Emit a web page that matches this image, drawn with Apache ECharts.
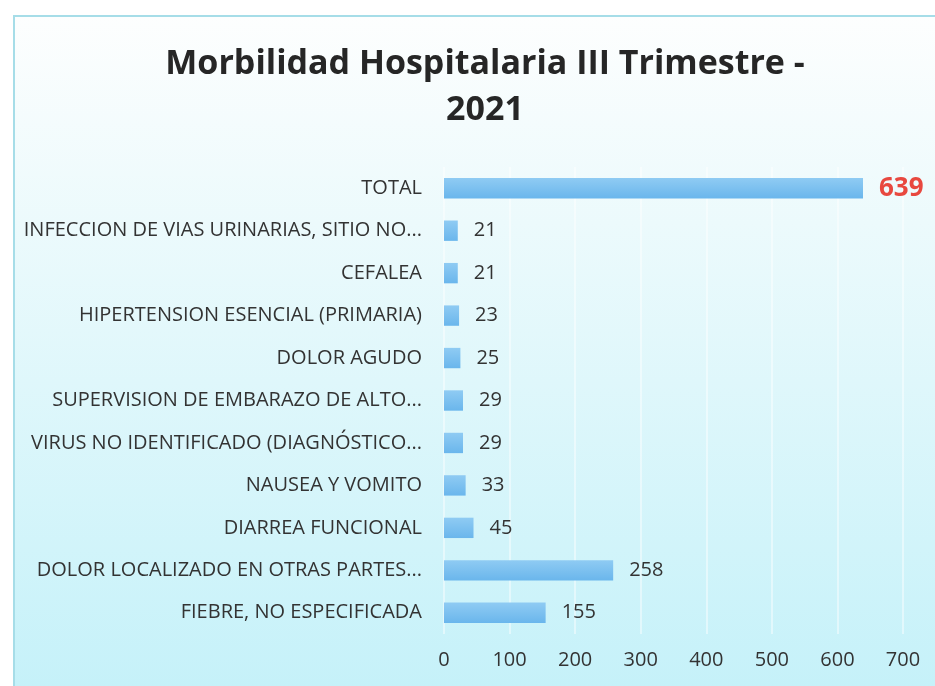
<!DOCTYPE html>
<html>
<head>
<meta charset="utf-8">
<script src="https://cdn.jsdelivr.net/npm/echarts@6/dist/echarts.min.js"></script>
<style>
  html, body { margin: 0; padding: 0; background: #fff; }
  #chart { width: 935px; height: 686px; }
</style>
</head>
<body>
<div id="chart"></div>
<script>
// categories, top to bottom as printed
const categories = [
  'TOTAL',
  'INFECCION DE VIAS URINARIAS, SITIO NO...',
  'CEFALEA',
  'HIPERTENSION ESENCIAL (PRIMARIA)',
  'DOLOR AGUDO',
  'SUPERVISION DE EMBARAZO DE ALTO...',
  'VIRUS NO IDENTIFICADO (DIAGNÓSTICO...',
  'NAUSEA Y VOMITO',
  'DIARREA FUNCIONAL',
  'DOLOR LOCALIZADO EN OTRAS PARTES...',
  'FIEBRE, NO ESPECIFICADA'
]
const casos = [639, 21, 21, 23, 25, 29, 29, 33, 45, 258, 155]
const xTicks = [0, 100, 200, 300, 400, 500, 600, 700]

const fontFamily = '"Open Sans", "DejaVu Sans", sans-serif'

const chart = echarts.init(document.getElementById('chart'))

const barColor = new echarts.graphic.LinearGradient(0, 0, 0, 1, [
  { offset: 0, color: '#8fcbf3' },
  { offset: 1, color: '#6ab6ec' }
])

chart.setOption({
  backgroundColor: '#ffffff',
  graphic: [{
    type: 'rect',
    z: -10,
    shape: { x: 14, y: 16, width: 940, height: 690 },
    style: {
      fill: new echarts.graphic.LinearGradient(0, 0, 0, 1, [
        { offset: 0, color: '#fdfefe' },
        { offset: 0.3, color: '#ecfafc' },
        { offset: 1, color: '#c4f1f9' }
      ]),
      stroke: '#a6dde8',
      lineWidth: 2
    }
  }],
  title: {
    text: 'Morbilidad Hospitalaria III Trimestre -\n2021',
    left: 480,
    top: 36,
    textAlign: 'center',
    textStyle: {
      fontFamily: fontFamily,
      fontSize: 34,
      fontWeight: 'bold',
      color: '#262626',
      lineHeight: 46
    }
  },
  grid: {
    left: 444,
    right: 32,
    top: 167,
    bottom: 52,
    containLabel: false
  },
  xAxis: {
    type: 'value',
    min: 0,
    max: 700,
    interval: 100,
    axisLine: { show: false },
    axisTick: { show: false },
    axisLabel: {
      margin: 16,
      fontFamily: fontFamily,
      fontSize: 20,
      color: '#333',
      formatter: v => xTicks.includes(v) ? String(v) : ''
    },
    splitLine: {
      show: true,
      lineStyle: { color: 'rgba(255,255,255,0.45)', width: 2 }
    }
  },
  yAxis: {
    type: 'category',
    data: categories,
    inverse: true,
    axisLine: { show: false },
    axisTick: { show: false },
    axisLabel: {
      margin: 22,
      fontFamily: fontFamily,
      fontSize: 20,
      color: '#333'
    }
  },
  series: [{
    name: 'Casos',
    type: 'bar',
    barWidth: '48%',
    data: casos.map((v, i) => ({
      value: v,
      label: i === 0
        ? { color: '#e8483f', fontWeight: 'bold', fontSize: 26, distance: 16 }
        : {}
    })),
    itemStyle: { color: barColor },
    label: {
      show: true,
      position: 'right',
      distance: 16,
      fontFamily: fontFamily,
      fontSize: 20,
      color: '#333'
    },
    animation: false
  }]
})
</script>
</body>
</html>
